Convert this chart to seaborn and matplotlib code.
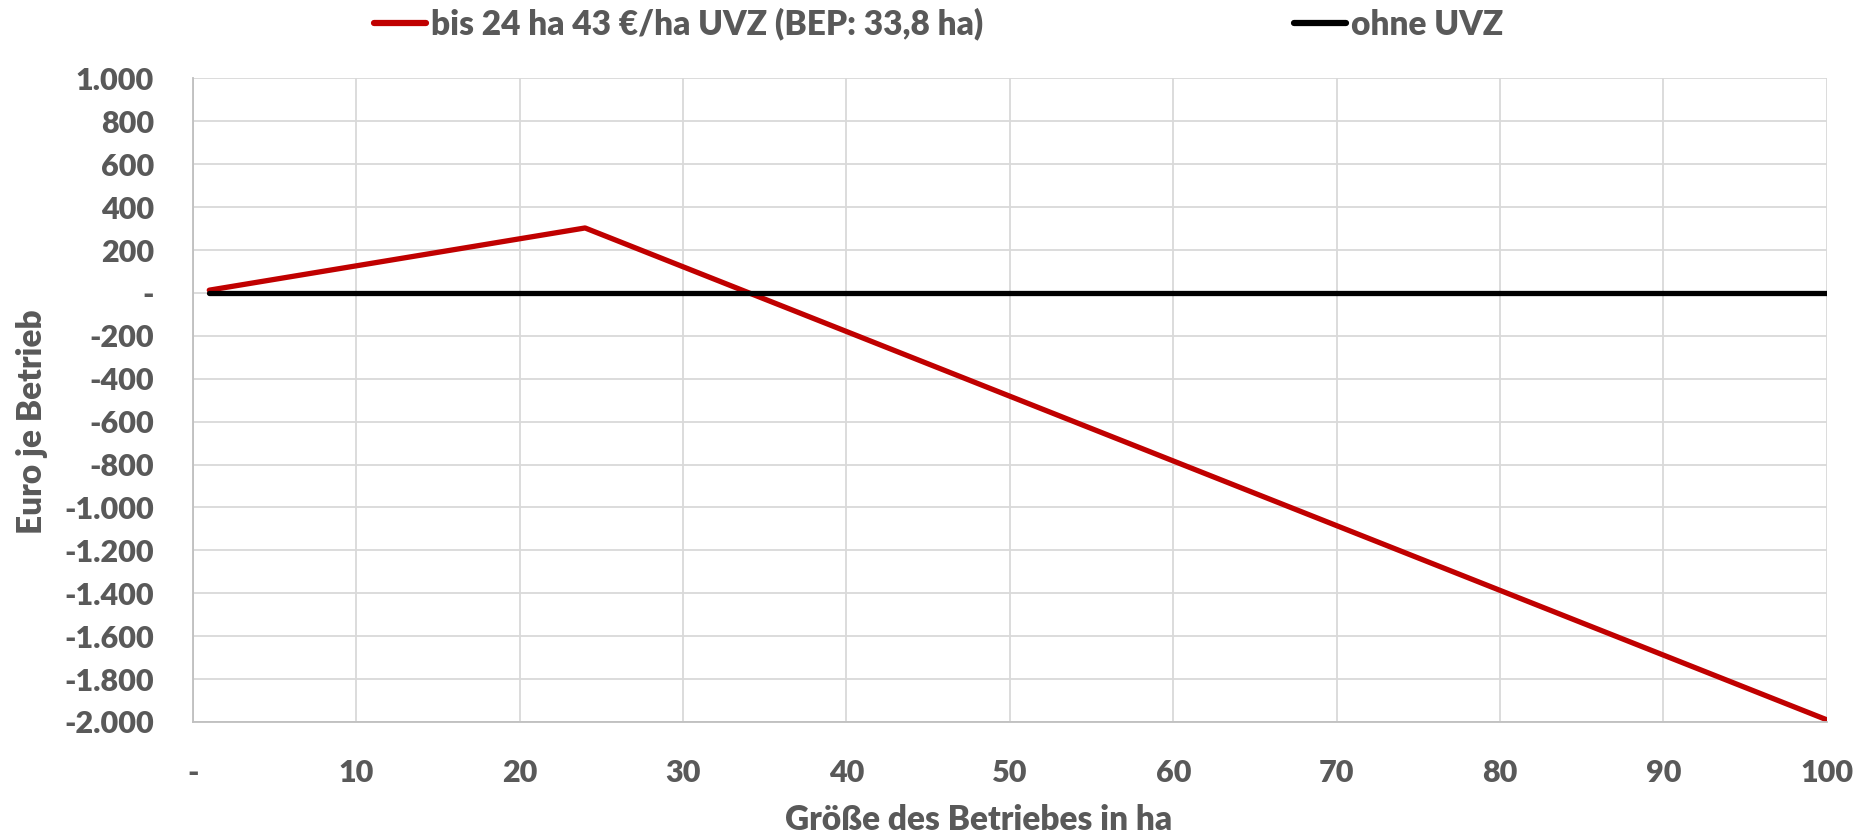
import matplotlib
matplotlib.use("Agg")
import matplotlib.pyplot as plt
import matplotlib.ticker as mticker
import seaborn as sns
import pandas as pd

# Data
flaeche_uvz = [1, 24, 100]
euro_uvz = [13, 303, -1990]
flaeche_ohne = [1, 100]
euro_ohne = [0, 0]

label_uvz = "bis 24 ha 43 €/ha UVZ (BEP: 33,8 ha)"
label_ohne = "ohne UVZ"

x_ticks = [0, 10, 20, 30, 40, 50, 60, 70, 80, 90, 100]
y_ticks = [1000, 800, 600, 400, 200, 0, -200, -400, -600, -800, -1000,
           -1200, -1400, -1600, -1800, -2000]

df = pd.concat([
    pd.DataFrame({"ha": flaeche_uvz, "euro": euro_uvz, "serie": label_uvz}),
    pd.DataFrame({"ha": flaeche_ohne, "euro": euro_ohne, "serie": label_ohne}),
])

sns.set_theme(style="white")
plt.rcParams["font.family"] = ["Lato", "DejaVu Sans"]

W = "heavy"
txt = "#595959"
fig = plt.figure(figsize=(18.66, 8.39), dpi=100)
ax = fig.add_axes([0.1034, 0.1395, 0.8756, 0.767])

sns.lineplot(data=df, x="ha", y="euro", hue="serie",
             palette={label_uvz: "#c00000", label_ohne: "#000000"},
             linewidth=3.8, ax=ax, legend=True, sort=False,
             estimator=None)
for ln in ax.get_lines():
    ln.set_solid_capstyle("round")
    ln.set_solid_joinstyle("round")

ax.set_xlim(0, 100)
ax.set_ylim(-2000, 1000)
ax.set_xticks(x_ticks)
ax.set_yticks(y_ticks)

def fmt(v, pos=None):
    if v == 0:
        return "-"
    s = f"{abs(int(round(v))):,}".replace(",", ".")
    return ("-" if v < 0 else "") + s

ax.xaxis.set_major_formatter(mticker.FuncFormatter(fmt))
ax.yaxis.set_major_formatter(mticker.FuncFormatter(fmt))

ax.grid(True, color="#d9d9d9", linewidth=1.3)
ax.set_axisbelow(True)
for side in ["top", "right"]:
    ax.spines[side].set_visible(False)
for side in ["left", "bottom"]:
    ax.spines[side].set_color("#bfbfbf")
    ax.spines[side].set_linewidth(1.3)

ax.tick_params(axis="y", length=0, labelsize=22, labelcolor=txt, pad=28)
ax.tick_params(axis="x", length=0, labelsize=22, labelcolor=txt, pad=27)
for lab in ax.get_xticklabels() + ax.get_yticklabels():
    lab.set_fontweight(W)

ax.set_xlabel("Größe des Betriebes in ha", fontsize=24, color=txt,
              fontweight=W)
ax.set_ylabel("Euro je Betrieb", fontsize=24, color=txt,
              fontweight=W)
ax.xaxis.set_label_coords(0.481, -0.128)
ax.yaxis.set_label_coords(-0.089, 0.466)

handles, labels = ax.get_legend_handles_labels()
ax.get_legend().remove()
leg = fig.legend(handles, labels, loc="center", bbox_to_anchor=(0.503, 0.971),
                 ncol=2, frameon=False, fontsize=24, handlelength=1.55,
                 handletextpad=0.15, columnspacing=9.35)
for t in leg.get_texts():
    t.set_color(txt)
    t.set_fontweight(W)
for h in leg.legend_handles:
    h.set_linewidth(4.5)

fig.savefig("out.png", dpi=100)
